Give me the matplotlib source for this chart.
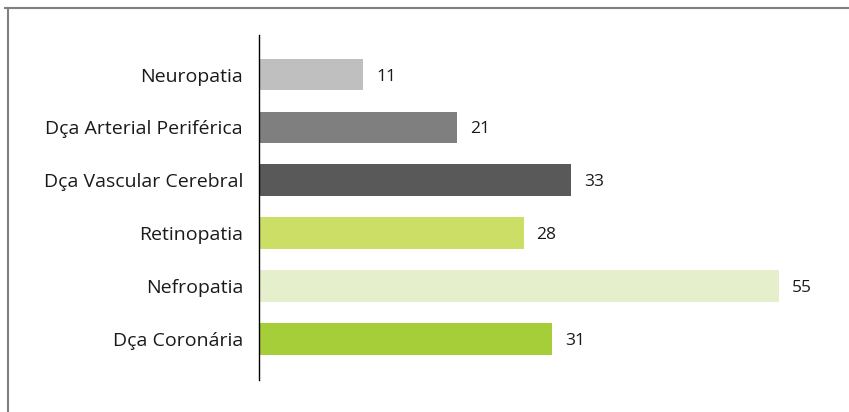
import matplotlib.pyplot as plt
from matplotlib.lines import Line2D

plt.rcParams['font.family'] = ['Open Sans', 'DejaVu Sans']

# dados (de baixo para cima)
categorias = ['Dça Coronária', 'Nefropatia', 'Retinopatia',
              'Dça Vascular Cerebral', 'Dça Arterial Periférica', 'Neuropatia']
valores = [31, 55, 28, 33, 21, 11]
cores = ['#A6CE39', '#E5EFCB', '#CDDE66', '#595959', '#7F7F7F', '#BFBFBF']

fig = plt.figure(figsize=(8.49, 4.12), dpi=100)
ax = fig.add_axes([259 / 849, 1 - 380 / 412, 567 / 849, 345 / 412])

ypos = range(len(categorias))
barras = ax.barh(ypos, valores, height=0.6, color=cores)

for b, v in zip(barras, valores):
    ax.annotate(str(v), (b.get_width(), b.get_y() + b.get_height() / 2),
                xytext=(13, -2), textcoords='offset pixels',
                va='center', ha='left', fontsize=12.5, color='#1a1a1a')

ax.set_yticks(list(ypos))
ax.set_yticklabels(categorias, fontsize=14, color='#1a1a1a')
ax.tick_params(axis='y', length=0, pad=16 * 72 / 100)
ax.set_xticks([])
ax.set_xlim(0, 60)
ax.set_ylim(-0.78, 5.75)

for s in ['top', 'right', 'bottom']:
    ax.spines[s].set_visible(False)
ax.spines['left'].set_color('black')
ax.spines['left'].set_linewidth(1)

# moldura (apenas topo e esquerda visíveis)
fig.add_artist(Line2D([5 / 849, 1], [1 - 7.5 / 412, 1 - 7.5 / 412],
                      transform=fig.transFigure, color='#808080', linewidth=1.5))
fig.add_artist(Line2D([8 / 849, 8 / 849], [0, 1 - 7.5 / 412],
                      transform=fig.transFigure, color='#808080', linewidth=1.5))

fig.savefig('out.png', dpi=100)
